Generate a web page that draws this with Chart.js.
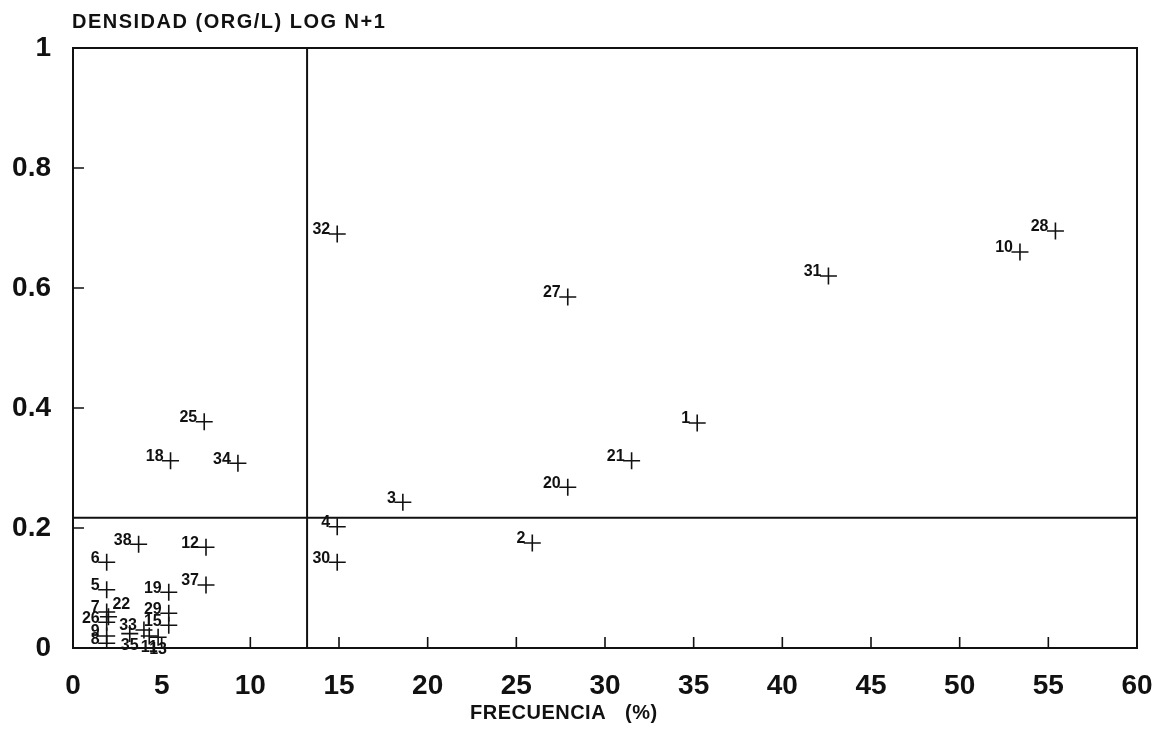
<!DOCTYPE html>
<html>
<head>
<meta charset="utf-8">
<script src="https://cdn.jsdelivr.net/npm/chart.js@4.4.1/dist/chart.umd.min.js"></script>
<style>
  html, body { margin: 0; padding: 0; background: #fff; }
  #grafico { display: block; }
</style>
</head>
<body>
<canvas id="grafico" width="1157" height="730"></canvas>
<script>
// Datos (frecuencia %, densidad log n+1)
const especies = ['1', '2', '3', '4', '5', '6', '7', '8', '9', '10', '11', '12', '13', '15', '18', '19', '20', '21', '22', '25', '26', '27', '28', '29', '30', '31', '32', '33', '34', '35', '37', '38'];
const frecuencia = [35.2, 25.9, 18.6, 14.9, 1.9, 1.9, 1.9, 1.9, 1.9, 53.4, 4.3, 7.5, 4.8, 5.4, 5.5, 5.4, 27.9, 31.5, 2.0, 7.4, 1.9, 27.9, 55.4, 5.4, 14.9, 42.6, 14.9, 4.0, 9.3, 3.2, 7.5, 3.7];
const densidad = [0.375, 0.175, 0.243, 0.202, 0.097, 0.143, 0.06, 0.008, 0.02, 0.66, 0.02, 0.168, 0.018, 0.038, 0.312, 0.093, 0.268, 0.312, 0.052, 0.377, 0.043, 0.585, 0.695, 0.058, 0.143, 0.62, 0.69, 0.03, 0.308, 0.024, 0.105, 0.173];

// líneas divisorias
const corteFrecuencia = 13.2;
const corteDensidad = 0.217;

// etiquetas que no van a la izquierda
const etiquetaDerecha = ['22'];
const etiquetaAbajo = ['11', '13', '35'];

const puntos = frecuencia.map((f, i) => ({ x: f, y: densidad[i] }));

const fuenteTexto = '"Liberation Sans", Arial, sans-serif';

const marcoYEtiquetas = {
    id: 'marcoYEtiquetas',
    afterDatasetsDraw(chart) {
        const ctx = chart.ctx;
        const area = chart.chartArea;
        const sx = chart.scales.x;
        const sy = chart.scales.y;
        ctx.save();
        ctx.strokeStyle = '#111';
        ctx.lineWidth = 2;
        ctx.strokeRect(area.left, area.top, area.right - area.left, area.bottom - area.top);

        // marcas hacia dentro
        ctx.lineWidth = 1.6;
        ctx.beginPath();
        sx.ticks.forEach(t => {
            if (t.value <= 0 || t.value >= 60) return;
            const px = sx.getPixelForValue(t.value);
            ctx.moveTo(px, area.bottom);
            ctx.lineTo(px, area.bottom - 11);
        });
        sy.ticks.forEach(t => {
            if (t.value <= 0 || t.value >= 1) return;
            const py = sy.getPixelForValue(t.value);
            ctx.moveTo(area.left, py);
            ctx.lineTo(area.left + 11, py);
        });
        ctx.stroke();

        // divisorias
        ctx.lineWidth = 2;
        ctx.beginPath();
        const cx = sx.getPixelForValue(corteFrecuencia);
        ctx.moveTo(cx, area.top);
        ctx.lineTo(cx, area.bottom);
        const cy = sy.getPixelForValue(corteDensidad);
        ctx.moveTo(area.left, cy);
        ctx.lineTo(area.right, cy);
        ctx.stroke();

        // números de cada punto
        ctx.fillStyle = '#111';
        ctx.font = 'bold 16px ' + fuenteTexto;
        const meta = chart.getDatasetMeta(0);
        meta.data.forEach((el, i) => {
            const txt = especies[i];
            if (etiquetaDerecha.includes(txt)) {
                ctx.textAlign = 'left';
                ctx.textBaseline = 'middle';
                ctx.fillText(txt, el.x + 4, el.y - 12);
            } else if (etiquetaAbajo.includes(txt)) {
                ctx.textAlign = 'center';
                ctx.textBaseline = 'top';
                ctx.fillText(txt, el.x, el.y + 4);
            } else {
                ctx.textAlign = 'right';
                ctx.textBaseline = 'middle';
                ctx.fillText(txt, el.x - 7, el.y - 4);
            }
        });

        // títulos
        ctx.textAlign = 'left';
        ctx.textBaseline = 'middle';
        ctx.font = 'bold 20px ' + fuenteTexto;
        ctx.letterSpacing = '1.5px';
        ctx.fillText('DENSIDAD (ORG/L) LOG N+1', 72, 22);
        ctx.letterSpacing = '0.5px';
        ctx.fillText('FRECUENCIA', 470, 713);
        ctx.fillText('(%)', 625, 713);
        ctx.restore();
    }
};

const grafico = new Chart(document.getElementById('grafico').getContext('2d'), {
    type: 'scatter',
    data: {
        datasets: [{
            data: puntos,
            pointStyle: 'cross',
            pointRadius: 8.5,
            pointHoverRadius: 8.5,
            borderColor: '#111',
            backgroundColor: '#111',
            pointBorderWidth: 1.6
        }]
    },
    plugins: [marcoYEtiquetas],
    options: {
        responsive: false,
        animation: false,
        events: [],
        layout: { padding: { top: 48, right: 20, left: 0, bottom: 0 } },
        plugins: {
            legend: { display: false },
            tooltip: { enabled: false }
        },
        scales: {
            x: {
                type: 'linear',
                min: 0,
                max: 60,
                grid: { display: false, drawTicks: false },
                border: { display: false },
                ticks: {
                    stepSize: 5,
                    padding: 21,
                    color: '#111',
                    font: { family: fuenteTexto, size: 28, weight: 'bold' }
                },
                afterFit: s => { s.height = 82; s.paddingLeft = 0; s.paddingRight = 0; }
            },
            y: {
                type: 'linear',
                min: 0,
                max: 1,
                grid: { display: false, drawTicks: false },
                border: { display: false },
                ticks: {
                    stepSize: 0.2,
                    padding: 22,
                    color: '#111',
                    font: { family: fuenteTexto, size: 28, weight: 'bold' },
                    callback: v => (v === 0 || v === 1) ? String(v) : v.toFixed(1)
                },
                afterFit: s => { s.width = 73; s.paddingTop = 0; s.paddingBottom = 0; }
            }
        }
    }
});
</script>
</body>
</html>
